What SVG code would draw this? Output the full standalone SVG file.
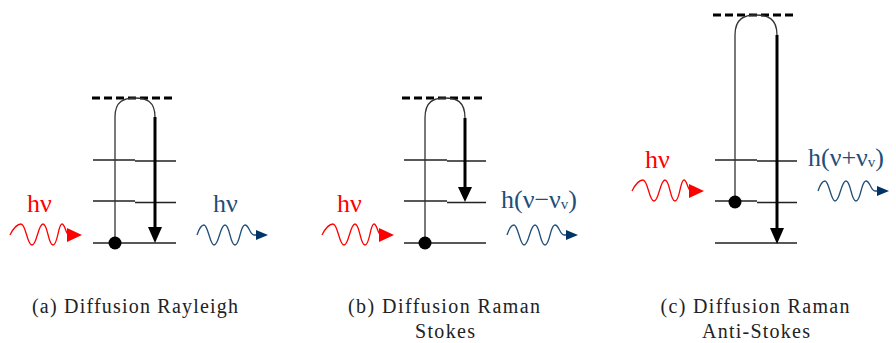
<svg xmlns="http://www.w3.org/2000/svg" width="896" height="343" viewBox="0 0 896 343">
<style>
.lvl{stroke:#222;stroke-width:1.4;fill:none}
.vt{stroke:#333;stroke-width:1.3;fill:none}
.dash{stroke:#000;stroke-width:3;stroke-dasharray:8 4;fill:none}
.em{stroke:#000;stroke-width:3;fill:none}
text{font-family:Liberation Serif, Times New Roman, Times, serif}
.red{fill:#ff0000;font-size:26px}
.blue{fill:#1f4e79;font-size:26px}
.sub{font-size:15px}
.cap{fill:#222;font-size:20px;text-anchor:middle}
</style>
<defs>
<g id="redwave">
<path d="M0,0 C3,-6 7,-11 11,-11 C16,-11 17,10 22,10 C27,10 28,-11 33,-11 C38,-11 38,10 43,10 C48,10 48,-11 52,-11 C55,-11 56,0 59,0" fill="none" stroke="#ff0000" stroke-width="1.3"/>
<polygon points="57,-7 72,0 57,7" fill="#ff0000"/>
</g>
<g id="bluewave">
<path d="M0,0 C2,-6 4,-10 7,-10 C11,-10 13,10 17,10 C22,10 23,-10 28,-10 C33,-10 33,10 38,10 C43,10 43,-10 48,-10 C52,-10 53,0 57,0 L61,0" fill="none" stroke="#1f4e79" stroke-width="1.3"/>
<polygon points="59,-5 71,0 59,5" fill="#003366"/>
</g>
</defs>

<g id="panel-a">
<line class="dash" x1="92" y1="98" x2="174" y2="98"/>
<path class="lvl" d="M93,160 H135 M135,161 H176 M93,201 H135 M135,202.5 H176 M93,243 H176"/>
<path class="vt" d="M115,243 V117 C115,101 124,98 135,98 C146,98 155,101 155,117"/>
<line class="em" x1="155" y1="117" x2="155" y2="230"/>
<polygon points="148,227 162,227 155,243" fill="#000"/>
<circle cx="115" cy="243" r="6.5" fill="#000"/>
<text class="red" x="27" y="212">hν</text>
<text class="blue" x="213" y="212">hν</text>
<use href="#redwave" x="10" y="235"/>
<use href="#bluewave" x="197" y="235"/>
<text class="cap" x="135" y="313" textLength="206" lengthAdjust="spacing">(a) Diffusion Rayleigh</text>
</g>

<g id="panel-b">
<line class="dash" x1="402" y1="98" x2="484" y2="98"/>
<path class="lvl" d="M404,160 H447 M447,161 H486 M404,201 H447 M447,202.5 H486 M404,243 H486"/>
<path class="vt" d="M425,243 V118 C425,101 434,98 445,98 C456,98 465,101 465,118"/>
<line class="em" x1="465" y1="118" x2="465" y2="190"/>
<polygon points="458,187 472,187 465,202" fill="#000"/>
<circle cx="425" cy="243" r="6.5" fill="#000"/>
<text class="red" x="337" y="212">hν</text>
<text class="blue" x="501" y="208">h(ν−ν<tspan class="sub" dy="1">v</tspan><tspan dy="-1">)</tspan></text>
<use href="#redwave" x="322" y="235"/>
<use href="#bluewave" x="507" y="235"/>
<text class="cap" x="444" y="313" textLength="192" lengthAdjust="spacing">(b) Diffusion Raman</text>
<text class="cap" x="445" y="338" textLength="60" lengthAdjust="spacing">Stokes</text>
</g>

<g id="panel-c">
<line class="dash" x1="713" y1="15" x2="794" y2="15"/>
<path class="lvl" d="M715,160 H757 M757,161 H797 M715,201 H757 M757,202.5 H797 M715,243 H797"/>
<path class="vt" d="M735,202 V35 C735,18 745,15 756,15 C767,15 777,18 777,35"/>
<line class="em" x1="777" y1="35" x2="777" y2="231"/>
<polygon points="770,228 784,228 777,244" fill="#000"/>
<circle cx="735" cy="202" r="6.5" fill="#000"/>
<text class="red" x="645" y="168">hν</text>
<text class="blue" x="808" y="166">h(ν+ν<tspan class="sub" dy="1">v</tspan><tspan dy="-1">)</tspan></text>
<use href="#redwave" x="632" y="191"/>
<use href="#bluewave" x="818" y="191"/>
<text class="cap" x="755" y="313" textLength="189" lengthAdjust="spacing">(c) Diffusion Raman</text>
<text class="cap" x="756" y="338" textLength="108" lengthAdjust="spacing">Anti-Stokes</text>
</g>
</svg>
